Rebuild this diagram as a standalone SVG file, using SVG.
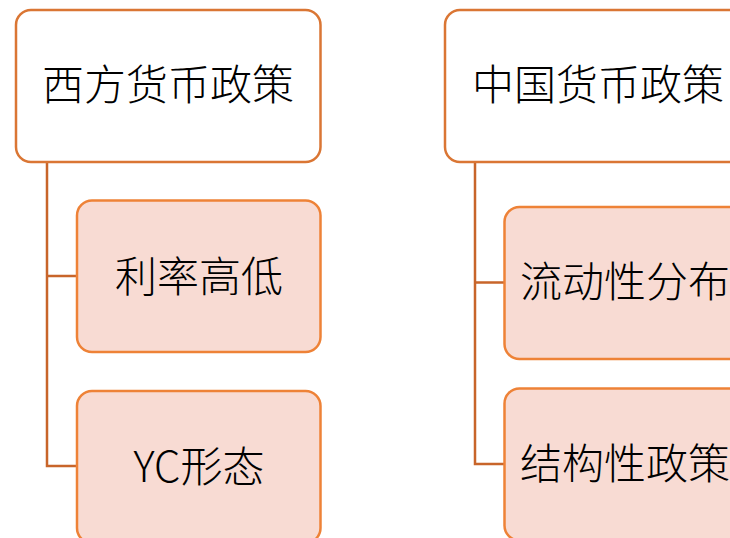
<svg xmlns="http://www.w3.org/2000/svg" width="730" height="538" viewBox="0 0 730 538">
<style>
.parent{fill:#ffffff;stroke:#DA7634;stroke-width:2.5}
.child{fill:#F8DBD3;stroke:#EE8237;stroke-width:2.5}
.lbl{font-family:"Microsoft YaHei","Noto Sans CJK SC","Noto Sans",sans-serif;font-size:42px;font-weight:300;fill:#000000;text-anchor:middle}
.conn{fill:none;stroke:#C8652A;stroke-width:2.5}
</style>
<rect width="730" height="538" fill="#ffffff"/>
<g id="connectors">
<path class="conn" d="M47 162 V466 H78 M47 276 H78"/>
<path class="conn" d="M475 162 V464 H505 M475 282.5 H505"/>
</g>
<g id="west">
<rect class="parent" x="16" y="10" width="304.5" height="152" rx="15"/>
<text class="lbl" x="168" y="100">西方货币政策</text>
</g>
<g id="rate">
<rect class="child" x="77" y="200.5" width="243.5" height="151.5" rx="15"/>
<text class="lbl" x="199" y="292">利率高低</text>
</g>
<g id="yc">
<rect class="child" x="77" y="391" width="243.5" height="152" rx="15"/>
<text class="lbl" x="199" y="482">YC形态</text>
</g>
<g id="china">
<rect class="parent" x="445" y="10" width="305" height="152" rx="15"/>
<text class="lbl" x="598" y="100">中国货币政策</text>
</g>
<g id="liquidity">
<rect class="child" x="504.5" y="207" width="240" height="152" rx="15"/>
<text class="lbl" x="625" y="297">流动性分布</text>
</g>
<g id="structural">
<rect class="child" x="504.5" y="388.5" width="240" height="152" rx="15"/>
<text class="lbl" x="625" y="479">结构性政策</text>
</g>
</svg>
